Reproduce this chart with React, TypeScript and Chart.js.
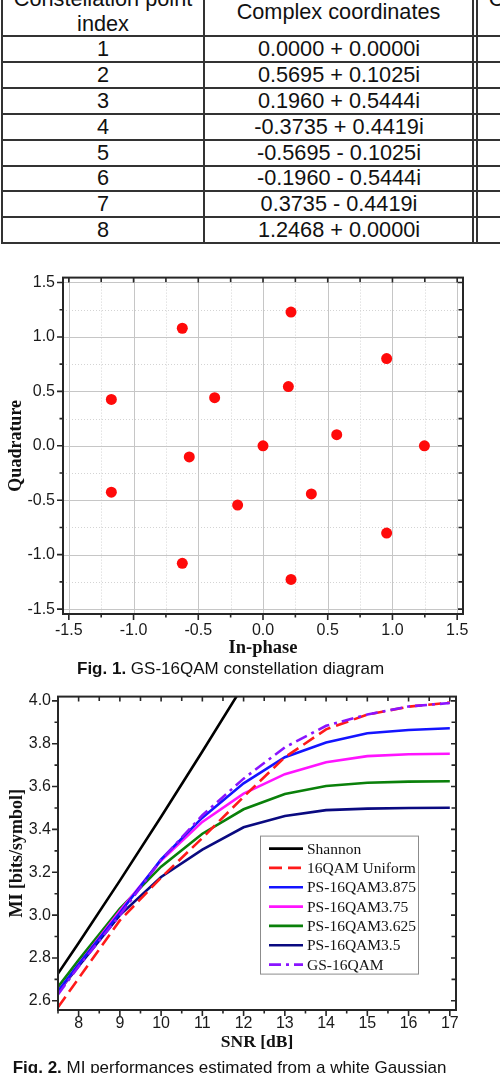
import React, { useEffect, useRef } from 'react';
import { Chart, registerables } from 'chart.js';

Chart.register(...registerables);
Chart.defaults.font.family = "'Liberation Sans', Arial, sans-serif";

// ---- Table of the first eight constellation points ----
const TABLE_INDEX = ['1', '2', '3', '4', '5', '6', '7', '8'];
const TABLE_COORDS = [
  '0.0000 + 0.0000i',
  '0.5695 + 0.1025i',
  '0.1960 + 0.5444i',
  '-0.3735 + 0.4419i',
  '-0.5695 - 0.1025i',
  '-0.1960 - 0.5444i',
  '0.3735 - 0.4419i',
  '1.2468 + 0.0000i',
];

// ---- GS-16QAM constellation (in-phase / quadrature) ----
const GS_I = [0.0, 0.5695, 0.196, -0.3735, -0.5695, -0.196, 0.3735, 1.2468,
  0.9551, 0.2165, -0.6234, -1.1716, -1.1716, -0.6234, 0.2165, 0.9551];
const GS_Q = [0.0, 0.1025, 0.5444, 0.4419, -0.1025, -0.5444, -0.4419, 0.0,
  0.8014, 1.2279, 1.0798, 0.4264, -0.4264, -1.0798, -1.2279, -0.8014];
const IQ_TICKS = [-1.5, -1.0, -0.5, 0, 0.5, 1.0, 1.5];
const IQ_MINOR = [-1.25, -0.75, -0.25, 0.25, 0.75, 1.25];

// ---- MI versus SNR ----
const SNR_DB = [7.5, 8, 9, 10, 11, 12, 13, 14, 15, 16, 17];
const MI_SHANNON = [2.727, 2.87, 3.161, 3.459, 3.764, 4.074, null, null, null, null, null];
const MI_UNIFORM = [2.57, 2.705, 2.975, 3.175, 3.36, 3.552, 3.737, 3.867, 3.936, 3.973, 3.992];
const MI_PS3875 = [2.645, 2.77, 3.01, 3.26, 3.455, 3.615, 3.737, 3.806, 3.849, 3.864, 3.872];
const MI_PS375 = [2.64, 2.77, 3.02, 3.255, 3.435, 3.567, 3.658, 3.714, 3.742, 3.751, 3.753];
const MI_PS3625 = [2.665, 2.79, 3.03, 3.226, 3.38, 3.494, 3.565, 3.603, 3.618, 3.623, 3.625];
const MI_PS35 = [2.64, 2.762, 3.0, 3.178, 3.306, 3.41, 3.463, 3.49, 3.497, 3.5, 3.501];
const MI_GS = [2.63, 2.76, 3.0, 3.258, 3.466, 3.637, 3.783, 3.884, 3.936, 3.974, 3.99];
const SNR_TICKS = [8, 9, 10, 11, 12, 13, 14, 15, 16, 17];
const SNR_MINOR = [7.5, 8.5, 9.5, 10.5, 11.5, 12.5, 13.5, 14.5, 15.5, 16.5];
const MI_TICKS = [2.6, 2.8, 3.0, 3.2, 3.4, 3.6, 3.8, 4.0];
const MI_MINOR = [2.7, 2.9, 3.1, 3.3, 3.5, 3.7, 3.9];

type Marks = { xMajor: number[]; xMinor: number[]; yMajor: number[]; yMinor: number[]; grid: boolean };

// Boxed plot frame with outward ticks (left/bottom), inward ticks (top/right) and optional grid
function makeAxisFrame(m: Marks) {
  return {
    id: 'axisFrame',
    beforeDatasetsDraw(chart: any) {
      if (!m.grid) return;
      const { ctx, chartArea: a, scales } = chart;
      const x = scales.x, y = scales.y;
      ctx.save();
      ctx.lineWidth = 1;
      ctx.strokeStyle = '#d4d4d4';
      ctx.setLineDash([1, 2]);
      ctx.beginPath();
      m.xMinor.forEach((v) => { const p = Math.round(x.getPixelForValue(v)) + 0.5; ctx.moveTo(p, a.top); ctx.lineTo(p, a.bottom); });
      m.yMinor.forEach((v) => { const p = Math.round(y.getPixelForValue(v)) + 0.5; ctx.moveTo(a.left, p); ctx.lineTo(a.right, p); });
      ctx.stroke();
      ctx.setLineDash([]);
      ctx.strokeStyle = '#c6c6c6';
      ctx.beginPath();
      m.xMajor.forEach((v) => { const p = Math.round(x.getPixelForValue(v)) + 0.5; ctx.moveTo(p, a.top); ctx.lineTo(p, a.bottom); });
      m.yMajor.forEach((v) => { const p = Math.round(y.getPixelForValue(v)) + 0.5; ctx.moveTo(a.left, p); ctx.lineTo(a.right, p); });
      ctx.stroke();
      ctx.restore();
    },
    afterDatasetsDraw(chart: any) {
      const { ctx, chartArea: a, scales } = chart;
      const x = scales.x, y = scales.y;
      ctx.save();
      ctx.strokeStyle = '#262626';
      ctx.lineWidth = 1.6;
      ctx.beginPath();
      const xt = (list: number[], out: number, inn: number) => list.forEach((v) => {
        const p = x.getPixelForValue(v);
        ctx.moveTo(p, a.bottom); ctx.lineTo(p, a.bottom + out);
        ctx.moveTo(p, a.top); ctx.lineTo(p, a.top + inn);
      });
      const yt = (list: number[], out: number, inn: number) => list.forEach((v) => {
        const p = y.getPixelForValue(v);
        ctx.moveTo(a.left, p); ctx.lineTo(a.left - out, p);
        ctx.moveTo(a.right, p); ctx.lineTo(a.right - inn, p);
      });
      xt(m.xMajor, 6, 5); xt(m.xMinor, 3.5, 4.5);
      yt(m.yMajor, 6, 5); yt(m.yMinor, 3.5, 4.5);
      ctx.stroke();
      ctx.lineWidth = 2;
      ctx.strokeRect(a.left, a.top, a.right - a.left, a.bottom - a.top);
      ctx.restore();
    },
  };
}

// Framed legend placed inside the MI plot area
const boxLegend = {
  id: 'boxLegend',
  afterDraw(chart: any) {
    const { ctx, chartArea: a } = chart;
    const left = a.left + 202, top = a.top + 139, w = 158, h = 138;
    ctx.save();
    ctx.fillStyle = '#ffffff';
    ctx.fillRect(left, top, w, h);
    ctx.strokeStyle = '#8c8c8c';
    ctx.lineWidth = 1;
    ctx.strokeRect(left + 0.5, top + 0.5, w, h);
    ctx.font = "15.5px 'Liberation Serif', 'Times New Roman', serif";
    ctx.textBaseline = 'middle';
    chart.data.datasets.forEach((ds: any, i: number) => {
      const yy = top + 13 + i * 19.33;
      ctx.strokeStyle = ds.borderColor;
      ctx.lineWidth = 2.7;
      ctx.setLineDash(ds.borderDash || []);
      ctx.beginPath();
      ctx.moveTo(left + 9, yy);
      ctx.lineTo(left + 43, yy);
      ctx.stroke();
      ctx.setLineDash([]);
      ctx.fillStyle = '#141414';
      ctx.fillText(ds.label, left + 47, yy + 1);
    });
    ctx.restore();
  },
};

const TICK_FONT = { size: 16 };
const TITLE_FONT = (size: number) => ({ family: "'Liberation Serif', 'Times New Roman', serif", size, weight: 'bold' as const });

function ConstellationChart() {
  const ref = useRef<HTMLCanvasElement>(null);
  useEffect(() => {
    const chart = new Chart(ref.current as HTMLCanvasElement, {
      type: 'scatter',
      data: {
        datasets: [{
          label: 'GS-16QAM',
          data: GS_I.map((x, i) => ({ x, y: GS_Q[i] })),
          backgroundColor: '#ff0a0a',
          borderWidth: 0,
          pointRadius: 5.5,
          pointHoverRadius: 5.5,
        }],
      },
      options: {
        responsive: false,
        animation: false,
        events: [],
        layout: { padding: { top: 15, right: 37, left: 0, bottom: 0 } },
        plugins: { legend: { display: false }, tooltip: { enabled: false } },
        scales: {
          x: {
            type: 'linear', min: -1.545, max: 1.545,
            afterBuildTicks: (s: any) => { s.ticks = IQ_TICKS.map((v) => ({ value: v })); },
            afterFit: (s: any) => { s.height = 46; },
            grid: { display: false, drawTicks: false },
            border: { display: false },
            ticks: { padding: 7, font: TICK_FONT, color: '#1a1a1a', autoSkip: false, maxRotation: 0, callback: (v: any) => Number(v).toFixed(1) },
            title: { display: true, text: 'In-phase', font: TITLE_FONT(18.5), color: '#111', padding: { top: 0, bottom: 1 } },
          },
          y: {
            type: 'linear', min: -1.545, max: 1.545,
            afterBuildTicks: (s: any) => { s.ticks = IQ_TICKS.map((v) => ({ value: v })); },
            afterFit: (s: any) => { s.width = 63; },
            grid: { display: false, drawTicks: false },
            border: { display: false },
            ticks: { padding: 8, font: TICK_FONT, color: '#1a1a1a', autoSkip: false, callback: (v: any) => Number(v).toFixed(1) },
            title: { display: true, text: 'Quadrature', font: TITLE_FONT(18), color: '#111', padding: { top: 6, bottom: 0 } },
          },
        },
      },
      plugins: [makeAxisFrame({ xMajor: IQ_TICKS, xMinor: IQ_MINOR, yMajor: IQ_TICKS, yMinor: IQ_MINOR, grid: true })],
    } as any);
    return () => chart.destroy();
  }, []);
  return (
    <canvas ref={ref} width={500} height={400}
      style={{ position: 'absolute', left: 0, top: 260, width: 500, height: 400 }} />
  );
}

function MIChart() {
  const ref = useRef<HTMLCanvasElement>(null);
  useEffect(() => {
    const series = (label: string, values: (number | null)[], color: string, order: number, dash?: number[]) => ({
      label,
      data: SNR_DB.map((x, i) => ({ x, y: values[i] })).filter((p) => p.y !== null),
      borderColor: color,
      backgroundColor: color,
      borderWidth: 2.6,
      borderDash: dash || [],
      pointRadius: 0,
      tension: 0,
      fill: false,
      order,
    });
    const chart = new Chart(ref.current as HTMLCanvasElement, {
      type: 'line',
      data: {
        datasets: [
          series('Shannon', MI_SHANNON, '#000000', 2),
          series('16QAM Uniform', MI_UNIFORM, '#ff1a1a', 1, [13, 6]),
          series('PS-16QAM3.875', MI_PS3875, '#1414ff', 3),
          series('PS-16QAM3.75', MI_PS375, '#ff14ff', 4),
          series('PS-16QAM3.625', MI_PS3625, '#0a800a', 5),
          series('PS-16QAM3.5', MI_PS35, '#0a0a80', 6),
          series('GS-16QAM', MI_GS, '#8a14ff', 0, [12, 5, 3, 5]),
        ],
      },
      options: {
        responsive: false,
        animation: false,
        events: [],
        layout: { padding: { top: 14, right: 44, left: 0, bottom: 0 } },
        plugins: { legend: { display: false }, tooltip: { enabled: false } },
        scales: {
          x: {
            type: 'linear', min: 7.5, max: 17.15,
            afterBuildTicks: (s: any) => { s.ticks = SNR_TICKS.map((v) => ({ value: v })); },
            afterFit: (s: any) => { s.height = 45; },
            grid: { display: false, drawTicks: false },
            border: { display: false },
            ticks: { padding: 4, font: TICK_FONT, color: '#1a1a1a', autoSkip: false, maxRotation: 0, callback: (v: any) => String(v) },
            title: { display: true, text: 'SNR [dB]', font: TITLE_FONT(17.5), color: '#111', padding: { top: 0, bottom: 2 } },
          },
          y: {
            type: 'linear', min: 2.557, max: 4.02,
            afterBuildTicks: (s: any) => { s.ticks = MI_TICKS.map((v) => ({ value: v })); },
            afterFit: (s: any) => { s.width = 58; },
            grid: { display: false, drawTicks: false },
            border: { display: false },
            ticks: { padding: 7, font: TICK_FONT, color: '#1a1a1a', autoSkip: false, callback: (v: any) => Number(v).toFixed(1) },
            title: { display: true, text: 'MI [bits/symbol]', font: TITLE_FONT(18), color: '#111', padding: { top: 7, bottom: 0 } },
          },
        },
      },
      plugins: [makeAxisFrame({ xMajor: SNR_TICKS, xMinor: SNR_MINOR, yMajor: MI_TICKS, yMinor: MI_MINOR, grid: false }), boxLegend],
    } as any);
    return () => chart.destroy();
  }, []);
  return (
    <canvas ref={ref} width={500} height={375}
      style={{ position: 'absolute', left: 0, top: 680, width: 500, height: 375 }} />
  );
}

const LINE = '#333333';
const ROW_TOP = 36;
const ROW_H = 25.9;

function PointTable() {
  const hLines = Array.from({ length: TABLE_INDEX.length + 1 }, (_, i) => ROW_TOP + i * ROW_H);
  const cell: React.CSSProperties = {
    position: 'absolute', height: ROW_H, display: 'flex', alignItems: 'center', justifyContent: 'center',
    fontSize: 21.7, whiteSpace: 'nowrap',
  };
  const vLine = (left: number): React.CSSProperties => ({
    position: 'absolute', left, top: -5, width: 2, height: hLines[hLines.length - 1] + 6, background: LINE,
  });
  const head: React.CSSProperties = {
    position: 'absolute', fontSize: 21.7, lineHeight: '24.5px', textAlign: 'center', whiteSpace: 'nowrap',
  };
  return (
    <div style={{ position: 'absolute', left: 0, top: 0, width: 500, height: 250 }}>
      <div style={{ ...head, left: 2, width: 202, top: -12.8 }}>Constellation point<br />index</div>
      <div style={{ ...head, left: 204, width: 269, top: 0.2 }}>Complex coordinates</div>
      <div style={{ ...head, left: 477, width: 202, top: -12.8 }}>Constellation point<br />index</div>
      {TABLE_INDEX.map((idx, i) => (
        <React.Fragment key={idx}>
          <div style={{ ...cell, left: 2, width: 202, top: ROW_TOP + i * ROW_H }}>{idx}</div>
          <div style={{ ...cell, left: 205, width: 268, top: ROW_TOP + i * ROW_H }}>{TABLE_COORDS[i]}</div>
        </React.Fragment>
      ))}
      {hLines.map((y, i) => (
        <div key={i} style={{ position: 'absolute', left: 1, top: y - 1, width: 520, height: 2, background: LINE }} />
      ))}
      <div style={vLine(1)} />
      <div style={vLine(203)} />
      <div style={vLine(471.5)} />
      <div style={vLine(475.5)} />
    </div>
  );
}

export default function App() {
  return (
    <div style={{
      position: 'fixed', left: 0, top: 0, width: 500, height: 1073, overflow: 'hidden',
      background: '#ffffff', color: '#111111', fontFamily: "'Liberation Sans', Arial, sans-serif",
    }}>
      <PointTable />
      <ConstellationChart />
      <div style={{ position: 'absolute', left: 77, top: 659, fontSize: 17, lineHeight: '20px', whiteSpace: 'nowrap' }}>
        <b>Fig. 1.</b> GS-16QAM constellation diagram
      </div>
      <MIChart />
      <div style={{ position: 'absolute', left: 12.7, top: 1058, fontSize: 17, lineHeight: '20px', whiteSpace: 'nowrap' }}>
        <b>Fig. 2.</b> MI performances estimated from a white Gaussian
      </div>
    </div>
  );
}
